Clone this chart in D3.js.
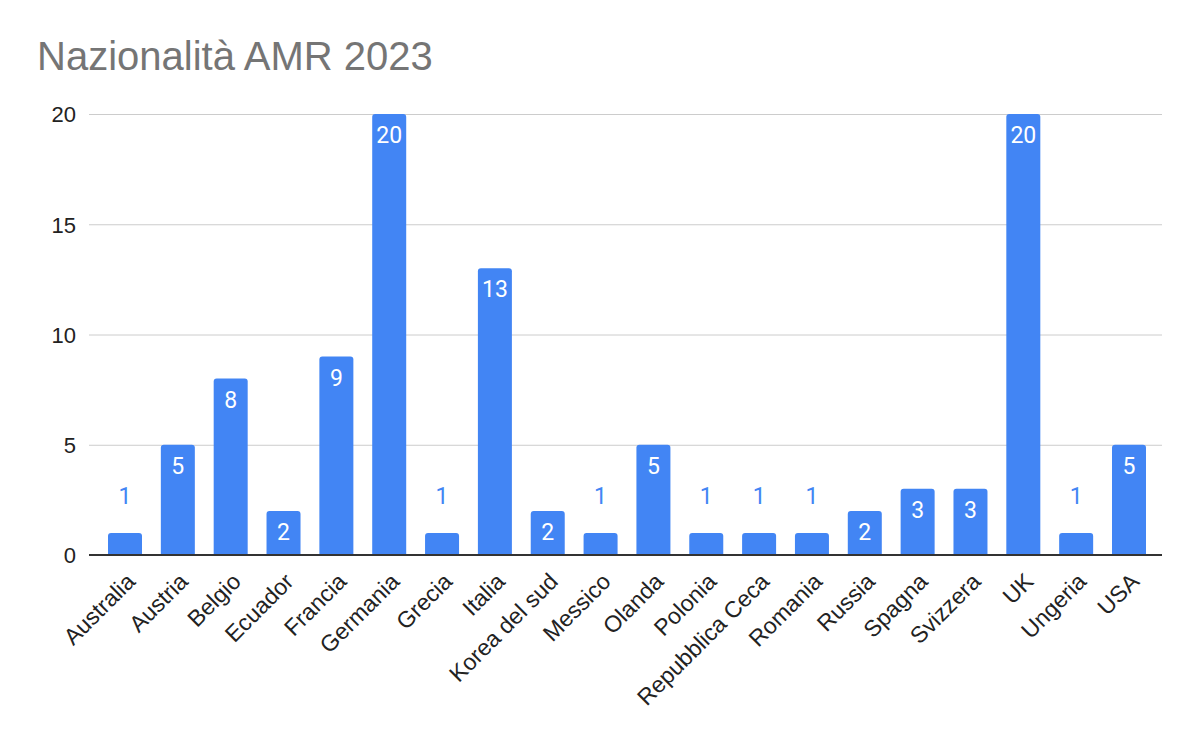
<!DOCTYPE html>
<html><head><meta charset="utf-8">
<script src="https://cdn.jsdelivr.net/npm/d3@7"></script>
<style>body{margin:0;background:#fff}svg{display:block}</style>
</head><body>
<script>
const categories = ["Australia","Austria","Belgio","Ecuador","Francia","Germania","Grecia","Italia","Korea del sud","Messico","Olanda","Polonia","Repubblica Ceca","Romania","Russia","Spagna","Svizzera","UK","Ungeria","USA"];
const values = [1,5,8,2,9,20,1,13,2,1,5,1,1,1,2,3,3,20,1,5];
const yTicks = [0,5,10,15,20];
const title = "Nazionalità AMR 2023";

const W = 1200, H = 742;
const svg = d3.select("body").append("svg").attr("width", W).attr("height", H);

const x = d3.scalePoint().domain(categories).range([125, 1129]);
const y = d3.scaleLinear().domain([0, 20]).range([555, 114]);
const barW = 34;

svg.append("text").attr("x", 37).attr("y", 70).text(title)
  .attr("font-family", "Arial, 'Liberation Sans', sans-serif").attr("font-size", 40).attr("fill", "#757575");

const yAxis = d3.axisLeft(y).tickValues(yTicks).tickSize(-(1162 - 89)).tickFormat(d3.format("d"));
const gy = svg.append("g").attr("transform", "translate(89,0)").call(yAxis);
gy.select(".domain").remove();
gy.selectAll(".tick line").attr("stroke", "#cccccc").attr("stroke-width", 1);
gy.selectAll(".tick text").attr("x", -13).attr("dy", "0.36em")
  .attr("font-family", "Arial, 'Liberation Sans', sans-serif").attr("font-size", 22).attr("fill", "#222");

const r = 3;
svg.append("g").selectAll("path").data(values).join("path")
  .attr("fill", "#4285f4")
  .attr("d", (d, i) => {
    const cx = x(categories[i]), x0 = cx - barW/2, x1 = cx + barW/2, y0 = y(d), yb = y(0);
    return `M${x0},${yb}V${y0+r}Q${x0},${y0} ${x0+r},${y0}H${x1-r}Q${x1},${y0} ${x1},${y0+r}V${yb}Z`;
  });

// baseline
svg.append("line").attr("x1", 89).attr("x2", 1162).attr("y1", y(0)).attr("y2", y(0))
  .attr("stroke", "#333").attr("stroke-width", 2);

// data labels
svg.append("g").selectAll("text").data(values).join("text")
  .attr("x", (d, i) => x(categories[i]))
  .attr("y", d => d >= 2 ? y(d) + 29 : y(d) - 29)
  .attr("text-anchor", "middle")
  .attr("font-family", "Roboto, sans-serif").attr("font-size", 23)
  .attr("fill", d => d >= 2 ? "#ffffff" : "#4285f4")
  .text(d => d);

// x labels
const xAxis = d3.axisBottom(x).tickSize(0);
const gx = svg.append("g").attr("transform", `translate(0,${y(0)})`).call(xAxis);
gx.select(".domain").remove();
gx.selectAll(".tick text")
  .attr("font-family", "Arial, 'Liberation Sans', sans-serif").attr("font-size", 23).attr("fill", "#222")
  .attr("text-anchor", "end").attr("dy", 0).attr("y", 0)
  .attr("transform", "translate(11,28) rotate(-45)");
</script>
</body></html>
